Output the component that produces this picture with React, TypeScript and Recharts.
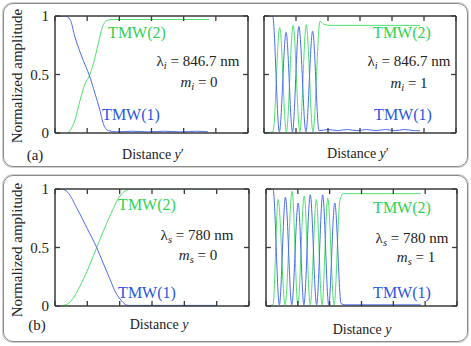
import React from "react";
import { LineChart, Line, XAxis, YAxis } from "recharts";

// x positions are in plot units 0..6 (six tick spacings), y is normalized amplitude
const xTicks = [0, 1, 2, 3, 4, 5, 6];
const yTicks = [0, 0.5, 1];

// (a) left: lambda_i = 846.7 nm, m_i = 0
const aLeftBlueX = [0, 0.31, 0.47, 0.62, 0.88, 1.07, 1.24, 1.4, 1.5, 1.66, 1.92, 2.4, 2.9, 3.4, 3.9, 4.4, 4.76];
const aLeftBlueY = [1, 1, 0.97, 0.82, 0.62, 0.49, 0.34, 0.19, 0.08, 0.02, 0.01, 0.015, 0.01, 0.015, 0.01, 0.015, 0.01];
const aLeftGreenX = [0.41, 0.62, 0.78, 0.93, 1.07, 1.19, 1.35, 1.48, 1.61, 1.76, 4.79];
const aLeftGreenY = [0, 0.11, 0.28, 0.42, 0.49, 0.59, 0.77, 0.91, 0.96, 0.97, 0.97];

// (a) right: m_i = 1
const aRightBlueX = [0, 0.27, 0.48, 0.69, 0.89, 1.09, 1.31, 1.52, 1.72, 2.0, 2.3, 2.6, 2.9, 3.2, 3.5, 3.8, 4.1, 4.4, 4.7, 4.875];
const aRightBlueY = [1, 1, 0.01, 0.86, 0.01, 0.91, 0.01, 0.87, 0.02, 0.03, 0.02, 0.03, 0.02, 0.03, 0.02, 0.03, 0.02, 0.03, 0.02, 0.02];
const aRightGreenX = [0, 0.28, 0.49, 0.7, 0.91, 1.12, 1.32, 1.53, 1.75, 1.87, 2.06, 4.875];
const aRightGreenY = [0, 0.01, 0.9, 0.01, 0.92, 0.01, 0.925, 0.01, 0.955, 0.93, 0.92, 0.92];

// (b) left: lambda_s = 780 nm, m_s = 0
const bLeftBlueX = [0, 0.2, 0.4, 0.67, 1.0, 1.29, 1.5, 1.7, 1.85, 2.01, 2.27, 2.4, 5.01];
const bLeftBlueY = [1, 1, 0.97, 0.84, 0.66, 0.5, 0.36, 0.23, 0.13, 0.06, 0.005, 0.005, 0.005];
const bLeftGreenX = [0.2, 0.45, 0.88, 1.29, 1.7, 2.01, 2.22, 2.35, 5.01];
const bLeftGreenY = [0, 0.03, 0.23, 0.5, 0.77, 0.94, 0.99, 1, 1];

// (b) right: m_s = 1
const bRightBlueX = [0, 0.22, 0.42, 0.61, 0.81, 1.01, 1.19, 1.39, 1.59, 1.78, 1.97, 2.16, 2.36, 2.48, 4.86];
const bRightBlueY = [1, 1, 0.01, 0.93, 0.01, 0.88, 0.01, 0.95, 0.01, 0.95, 0.01, 0.88, 0.02, 0.01, 0.01];
const bRightGreenX = [0, 0.22, 0.38, 0.6, 0.82, 1.0, 1.2, 1.39, 1.58, 1.76, 1.94, 2.14, 2.32, 2.42, 4.86];
const bRightGreenY = [0, 0.01, 0.91, 0.01, 0.98, 0.01, 0.94, 0.01, 0.91, 0.01, 0.92, 0.01, 0.9, 0.96, 0.96];

const zip = (xs: number[], ys: number[]) => xs.map((x, i) => ({ x, y: ys[i] }));

const serif = '"Liberation Serif", "Times New Roman", Times, "DejaVu Serif", serif';
const frame = "#3a3a3a";
const blueLine = "#4a6cf0";
const greenLine = "#4ee070";
const blueText = "#2a55e0";
const greenText = "#2fd24f";

type PanelProps = {
  left: number;
  top: number;
  width: number;
  labels: boolean;
  blue: { x: number; y: number }[];
  green: { x: number; y: number }[];
};

const noLabel = () => "";

function Panel({ left, top, width, labels, blue, green }: PanelProps) {
  const axisLine = { stroke: frame, strokeWidth: 1.5 };
  const tickLine = { stroke: frame, strokeWidth: 1.3 };
  const frameAxis = {
    allowDataOverflow: true,
    mirror: true,
    interval: 0 as const,
    tickFormatter: noLabel,
    tickSize: 5,
    axisLine,
    tickLine,
    type: "number" as const,
  };
  return (
    <div style={{ position: "absolute", left, top }}>
      <LineChart
        width={width}
        height={140}
        margin={{ top: 16, right: 2, bottom: 7, left: labels ? 15 : 6 }}
      >
        <XAxis xAxisId="b" dataKey="x" domain={[0, 6]} ticks={xTicks} {...frameAxis} />
        <XAxis xAxisId="t" orientation="top" dataKey="x" domain={[0, 6]} ticks={xTicks} {...frameAxis} />
        <YAxis yAxisId="l" domain={[0, 1]} ticks={yTicks} {...frameAxis} />
        <YAxis yAxisId="r" orientation="right" domain={[0, 1]} ticks={yTicks} {...frameAxis} />
        {labels && (
          <YAxis yAxisId="lab" type="number" domain={[0, 1]} ticks={yTicks} width={40} interval={0}
            allowDataOverflow axisLine={false} tickLine={false} tickSize={0} tickMargin={6}
            tick={{ fontSize: 15, fill: "#222", fontFamily: serif }} />
        )}
        <Line xAxisId="b" yAxisId="l" data={green} dataKey="y" type="monotone"
          stroke={greenLine} strokeWidth={1} dot={false} isAnimationActive={false} />
        <Line xAxisId="b" yAxisId="l" data={blue} dataKey="y" type="monotone"
          stroke={blueLine} strokeWidth={1} dot={false} isAnimationActive={false} />
      </LineChart>
    </div>
  );
}

function T({ x, y, size = 15, color = "#222", children, rotate }: any) {
  return (
    <div
      style={{
        position: "absolute",
        left: x,
        top: y,
        transform: `translate(-50%, -50%)${rotate ? " rotate(-90deg)" : ""}`,
        whiteSpace: "nowrap",
        fontFamily: serif,
        fontSize: size,
        color,
        lineHeight: 1,
      }}
    >
      {children}
    </div>
  );
}

const sub = { fontSize: "0.7em", fontStyle: "italic", verticalAlign: "-0.25em" } as const;

export default function App() {
  const box = {
    position: "absolute" as const,
    left: 3,
    width: 463,
    border: "1.5px solid #8a8a8a",
    borderRadius: 10,
    boxShadow: "0 0 0 1px #d0d0d0",
  };
  return (
    <div style={{ position: "absolute", left: 0, top: 0, width: 471, height: 346, background: "#fff", fontFamily: serif }}>
      <div style={{ ...box, top: 3, height: 162 }} />
      <div style={{ ...box, top: 175, height: 165 }} />

      <Panel left={0} top={0} width={250} labels blue={zip(aLeftBlueX, aLeftBlueY)} green={zip(aLeftGreenX, aLeftGreenY)} />
      <Panel left={258} top={0} width={200} labels={false} blue={zip(aRightBlueX, aRightBlueY)} green={zip(aRightGreenX, aRightGreenY)} />
      <Panel left={0} top={173} width={251} labels blue={zip(bLeftBlueX, bLeftBlueY)} green={zip(bLeftGreenX, bLeftGreenY)} />
      <Panel left={260} top={173} width={199} labels={false} blue={zip(bRightBlueX, bRightBlueY)} green={zip(bRightGreenX, bRightGreenY)} />

      <T x={17} y={76} rotate>Normalized amplitude</T>
      <T x={17} y={250} rotate>Normalized amplitude</T>

      <T x={137} y={33} size={16} color={greenText}>TMW(2)</T>
      <T x={198} y={63}>λ<span style={sub}>i</span> = 846.7 nm</T>
      <T x={199} y={84}><i>m</i><span style={sub}>i</span> = 0</T>
      <T x={131} y={115} size={16} color={blueText}>TMW(1)</T>
      <T x={35} y={155}>(a)</T>
      <T x={153} y={155} size={14}>Distance <i>y</i>′</T>

      <T x={402} y={33} size={16} color={greenText}>TMW(2)</T>
      <T x={409} y={63}>λ<span style={sub}>i</span> = 846.7 nm</T>
      <T x={409} y={85}><i>m</i><span style={sub}>i</span> = 1</T>
      <T x={403} y={115} size={16} color={blueText}>TMW(1)</T>
      <T x={358} y={154} size={14}>Distance <i>y</i>′</T>

      <T x={147} y={205} size={16} color={greenText}>TMW(2)</T>
      <T x={197} y={237}>λ<span style={sub}>s</span> = 780 nm</T>
      <T x={198} y={257}><i>m</i><span style={sub}>s</span> = 0</T>
      <T x={147} y={293} size={16} color={blueText}>TMW(1)</T>
      <T x={37} y={325}>(b)</T>
      <T x={159} y={325} size={14}>Distance <i>y</i></T>

      <T x={402} y={208} size={16} color={greenText}>TMW(2)</T>
      <T x={412} y={240}>λ<span style={sub}>s</span> = 780 nm</T>
      <T x={416} y={259}><i>m</i><span style={sub}>s</span> = 1</T>
      <T x={402} y={293} size={16} color={blueText}>TMW(1)</T>
      <T x={362} y={330} size={14}>Distance <i>y</i></T>
    </div>
  );
}
